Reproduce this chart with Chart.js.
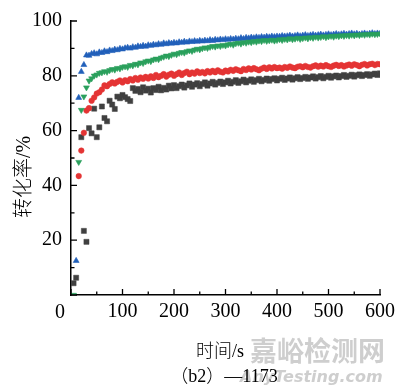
<!DOCTYPE html>
<html>
<head>
<meta charset="utf-8">
<title>转化率</title>
<script src="https://cdn.jsdelivr.net/npm/chart.js"></script>
<style>
  body { margin: 0; background: #fff; }
</style>
</head>
<body>
<div style="width:400px;height:392px">
  <canvas id="chart" width="400" height="392"></canvas>
</div>
<script>
// Messzeitpunkte (s), alle 5 s
var zeit = [];
for (var t = 5; t <= 600; t += 5) zeit.push(t);

// schwarze Quadrate
var reiheSchwarz = [
  4.3, 6.3, null, 57.6, 23.4, 19.4, 60.9, 59.0, 68.0, 57.6,
  61.2, 68.8, 64.6, 63.4, 70.9, 69.5, 67.9, 72.4, 71.8, 73.0,
  72.2, 71.5, 70.8, 75.5, 74.5, 75.2, 74.0, 75.8, 74.6, 75.3,
  73.9, 75.5, 74.8, 76.0, 74.7, 75.6, 75.0, 76.4, 75.4, 76.6,
  75.5, 76.2, 76.8, 75.7, 76.5, 77.2, 76.0, 76.8, 77.3, 76.2,
  77.0, 77.6, 76.4, 77.2, 77.8, 76.8, 77.4, 77.9, 77.0, 77.6,
  78.2, 77.2, 77.8, 78.4, 77.4, 78.0, 78.6, 77.6, 78.2, 78.7,
  77.8, 78.4, 78.9, 78.0, 78.5, 79.0, 78.2, 78.8, 79.1, 78.3,
  78.9, 79.3, 78.5, 79.0, 79.4, 78.6, 79.1, 79.5, 78.8, 79.2,
  79.6, 78.9, 79.4, 79.8, 79.0, 79.5, 79.9, 79.1, 79.6, 80.0,
  79.3, 79.8, 80.1, 79.4, 79.9, 80.3, 79.6, 80.0, 80.4, 79.7,
  80.2, 80.5, 79.9, 80.3, 80.6, 80.0, 80.5, 80.8, 80.3, 80.9
];

// rote Kreise
var reiheRot = [
  null, null, 43.4, 52.7, 59.2, 67.3, 68.2, 70.9, 72.1, 73.5,
  74.0, 75.0, 76.5, 76.2, 77.0, 77.6, 77.2, 77.8, 78.3, 77.6,
  78.4, 78.0, 78.8, 78.3, 79.2, 78.6, 79.4, 78.9, 79.6, 79.0,
  79.8, 79.2, 80.3, 79.5, 80.0, 80.6, 79.7, 80.4, 80.8, 80.0,
  80.6, 81.2, 80.3, 81.0, 81.5, 80.6, 81.2, 80.8, 81.6, 81.0,
  81.4, 80.9, 81.7, 81.2, 81.8, 81.3, 82.0, 81.5, 81.2, 81.9,
  81.6, 82.2, 81.8, 82.4, 82.0, 81.7, 82.5, 82.1, 82.7, 82.3,
  82.8, 82.4, 82.0, 82.6, 83.0, 82.5, 83.1, 82.7, 83.2, 82.8,
  83.0, 82.6, 83.2, 82.9, 83.4, 83.0, 82.8, 83.3, 83.5, 83.1,
  83.6, 83.2, 83.0, 83.5, 83.8, 83.3, 83.7, 83.4, 83.9, 83.5,
  83.2, 83.7, 84.0, 83.6, 83.9, 83.4, 83.8, 84.1, 83.7, 84.2,
  83.9, 83.5, 84.0, 84.3, 83.8, 84.2, 84.4, 83.9, 84.3, 84.2
];

// blaue Dreiecke
var reiheBlau = [
  null, 12.5, 72.0, 81.5, 84.0, 87.5, 87.4, 88.0, 88.3, 87.9,
  88.6, 88.4, 89.0, 88.7, 89.3, 89.1, 89.6, 89.4, 89.9, 89.7,
  90.1, 90.3, 90.0, 90.5, 90.3, 90.8, 90.6, 91.0, 90.7, 91.2,
  91.0, 91.4, 91.2, 91.6, 91.4, 91.9, 91.6, 92.0, 91.8, 92.1,
  91.9, 92.3, 92.1, 92.5, 92.2, 92.6, 92.4, 92.7, 92.5, 92.8,
  92.6, 92.9, 92.7, 93.1, 92.8, 93.2, 93.0, 93.3, 93.1, 93.4,
  93.2, 93.5, 93.3, 93.6, 93.4, 93.8, 93.5, 93.9, 93.7, 94.0,
  93.8, 94.1, 93.9, 94.2, 94.0, 94.3, 94.1, 94.4, 94.2, 94.4,
  94.3, 94.6, 94.4, 94.5, 94.7, 94.4, 94.6, 94.8, 94.5, 94.7,
  94.9, 94.6, 94.8, 95.0, 94.7, 94.9, 95.1, 94.8, 95.0, 95.2,
  94.9, 95.1, 95.3, 95.0, 95.2, 95.4, 95.1, 95.3, 95.5, 95.2,
  95.4, 95.1, 95.3, 95.5, 95.2, 95.4, 95.6, 95.3, 95.5, 95.4
];

// grüne Dreiecke (Spitze nach unten)
var reiheGruen = [
  0, null, 48.5, 67.5, 72.4, 75.7, 78.2, 79.0, 80.0, 80.4,
  81.0, 81.2, 81.6, 81.4, 82.0, 82.4, 82.2, 82.8, 82.6, 83.2,
  83.4, 83.2, 83.9, 83.7, 84.3, 84.1, 84.8, 84.6, 85.2, 85.5,
  85.3, 85.9, 86.2, 86.0, 86.6, 86.9, 87.3, 87.1, 87.6, 88.0,
  87.8, 88.3, 88.6, 88.4, 88.9, 89.2, 89.0, 89.5, 89.8, 89.6,
  90.0, 90.3, 90.1, 90.5, 90.8, 90.6, 91.0, 90.8, 91.2, 91.0,
  91.4, 91.6, 91.3, 91.8, 92.0, 91.7, 92.2, 92.0, 92.4, 92.2,
  92.6, 92.4, 92.8, 92.6, 93.0, 92.7, 92.9, 93.1, 92.8, 93.0,
  93.3, 93.0, 93.4, 93.2, 93.6, 93.3, 93.5, 93.8, 93.4, 93.7,
  93.9, 93.6, 94.0, 93.8, 94.2, 93.9, 94.1, 94.4, 94.0, 94.3,
  94.5, 94.2, 94.6, 94.4, 94.7, 94.5, 94.8, 94.6, 94.9, 94.7,
  95.0, 94.8, 95.1, 94.9, 95.2, 95.0, 95.3, 95.1, 95.2, 95.4
];

var xTicks = [0, 100, 200, 300, 400, 500, 600];
var yTicks = [0, 20, 40, 60, 80, 100];

function punkte(werte) {
  return zeit.map(function (t, i) { return { x: t, y: werte[i] }; });
}

var serif = "'Liberation Serif', 'Times New Roman', serif";
var cjk = "'Liberation Serif', 'Noto Sans CJK SC', serif";

// Achsenstriche nach innen, Beschriftungen, Wasserzeichen
var extras = {
  id: "extras",
  afterDraw: function (chart) {
    var ctx = chart.ctx;
    var xs = chart.scales.x, ys = chart.scales.y;
    var area = chart.chartArea;
    ctx.save();
    ctx.strokeStyle = "#000";
    ctx.lineWidth = 1.3;
    ctx.beginPath();
    for (var v = 0; v <= 600; v += 50) {
      var px = xs.getPixelForValue(v);
      var len = v % 100 === 0 ? 6 : 3.5;
      ctx.moveTo(px, area.bottom);
      ctx.lineTo(px, area.bottom - len);
    }
    for (var w = 0; w <= 100; w += 10) {
      var py = ys.getPixelForValue(w);
      var l2 = w % 20 === 0 ? 6 : 3.5;
      ctx.moveTo(area.left, py);
      ctx.lineTo(area.left + l2, py);
    }
    ctx.stroke();

    ctx.fillStyle = "#000";
    ctx.font = "20px " + serif;
    ctx.textAlign = "center";
    ctx.textBaseline = "middle";
    ctx.fillText("0", 60, 313);

    // Wasserzeichen
    ctx.fillStyle = "rgba(190,190,190,0.75)";
    ctx.font = "bold 27px 'Noto Sans CJK SC'";
    ctx.textAlign = "left";
    ctx.fillText("嘉峪检测网", 250, 351);
    ctx.font = "italic bold 16px 'DejaVu Sans'";
    ctx.fillText("AnyTesting.com", 240, 378);

    ctx.fillStyle = "#000";
    ctx.textAlign = "center";
    ctx.font = "300 18px " + cjk;
    ctx.fillText("时间/s", 220, 352);
    ctx.font = "300 18px " + cjk;
    ctx.fillText("（b2）—1173", 224, 377);

    ctx.translate(25, 177);
    ctx.rotate(-Math.PI / 2);
    ctx.font = "300 20px " + cjk;
    ctx.fillText("转化率/%", 0, 0);
    ctx.restore();
  }
};

new Chart(document.getElementById("chart"), {
  type: "scatter",
  data: {
    datasets: [
      {
        label: "green",
        data: punkte(reiheGruen),
        pointStyle: "triangle",
        rotation: 180,
        pointRadius: 3.4,
        backgroundColor: "rgb(42,160,92)",
        borderColor: "rgb(42,160,92)",
        borderWidth: 0.6,
        order: 0
      },
      {
        label: "blue",
        data: punkte(reiheBlau),
        pointStyle: "triangle",
        pointRadius: 3.4,
        backgroundColor: "rgb(33,96,186)",
        borderColor: "rgb(33,96,186)",
        borderWidth: 0.6,
        order: 1
      },
      {
        label: "red",
        data: punkte(reiheRot),
        pointStyle: "circle",
        pointRadius: 2.8,
        backgroundColor: "rgb(228,52,52)",
        borderColor: "rgb(228,52,52)",
        borderWidth: 0.5,
        order: 2
      },
      {
        label: "black",
        data: punkte(reiheSchwarz),
        pointStyle: "rect",
        pointRadius: 3.6,
        backgroundColor: "rgb(64,64,64)",
        borderColor: "rgb(64,64,64)",
        borderWidth: 0.5,
        order: 3
      }
    ]
  },
  options: {
    responsive: false,
    animation: false,
    devicePixelRatio: 1,
    layout: { padding: { top: 20, right: 20, left: 0, bottom: 0 } },
    plugins: { legend: { display: false }, tooltip: { enabled: false } },
    scales: {
      x: {
        type: "linear",
        min: 0,
        max: 600,
        afterBuildTicks: function (s) { s.ticks = xTicks.map(function (v) { return { value: v }; }); },
        afterFit: function (s) { s.height = 97; },
        grid: { display: false, drawTicks: false },
        border: { display: true, color: "#000", width: 1.5 },
        ticks: {
          color: "#000",
          padding: 5,
          maxRotation: 0,
          font: { family: serif, size: 20 },
          callback: function (v) { return v === 0 ? "" : v; }
        }
      },
      y: {
        type: "linear",
        min: 0,
        max: 100,
        afterBuildTicks: function (s) { s.ticks = yTicks.map(function (v) { return { value: v }; }); },
        afterFit: function (s) { s.width = 71; },
        grid: { display: false, drawTicks: false },
        border: { display: true, color: "#000", width: 1.5 },
        ticks: {
          color: "#000",
          padding: 9,
          font: { family: serif, size: 20 },
          callback: function (v) { return v === 0 ? "" : v; }
        }
      }
    }
  },
  plugins: [extras]
});
</script>
</body>
</html>
